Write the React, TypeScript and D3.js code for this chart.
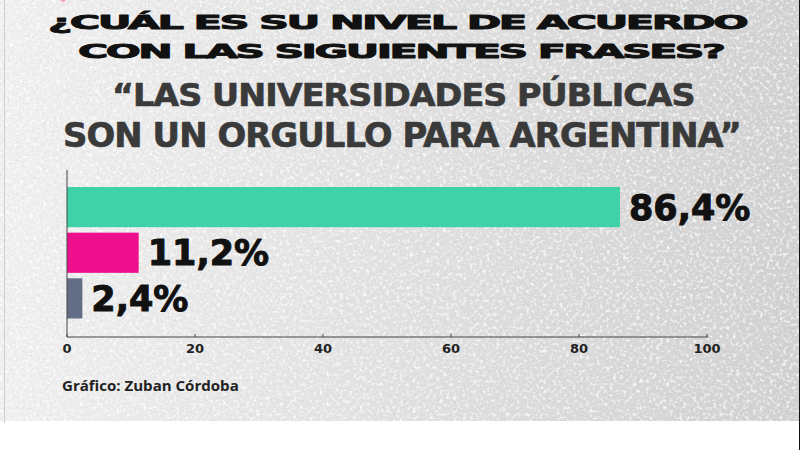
import React, { useLayoutEffect, useRef, useState } from "react";
import * as d3 from "d3";

const categories = ["De acuerdo", "En desacuerdo", "Ns/Nc"];
const values = [86.4, 11.2, 2.4];
const colors = ["#40d2a7", "#ee0f8c", "#646d86"];
const ticks = [0, 20, 40, 60, 80, 100];
const titleLines = ["¿CUÁL ES SU NIVEL DE ACUERDO", "CON LAS SIGUIENTES FRASES?"];
const quoteLines = ["“LAS UNIVERSIDADES PÚBLICAS", "SON UN ORGULLO PARA ARGENTINA”"];
const source = "Gráfico: Zuban Córdoba";

const W = 800;
const H = 450;

function StretchText(props: {
  x: number; y: number; width: number; text: string; fontFamily: string; fontSize: number;
  fill: string; stroke?: string; strokeWidth?: number; fontWeight?: string | number; letterSpacing?: number;
}) {
  const ref = useRef<SVGTextElement>(null);
  const [sx, setSx] = useState(1);
  useLayoutEffect(() => {
    if (ref.current) {
      const w = ref.current.getBBox().width;
      if (w > 0) setSx(props.width / w);
    }
  }, [props.text, props.width, props.fontSize, props.fontFamily]);
  return (
    <g transform={`translate(${props.x},${props.y}) scale(${sx},1)`}>
      <text
        ref={ref}
        x={0}
        y={0}
        fontFamily={props.fontFamily}
        fontWeight={props.fontWeight ?? "bold"}
        fontSize={props.fontSize}
        fill={props.fill}
        stroke={props.stroke}
        strokeWidth={props.strokeWidth}
        strokeLinejoin="round"
        style={{ letterSpacing: `${props.letterSpacing ?? 0}px` }}
      >
        {props.text}
      </text>
    </g>
  );
}

export default function App() {
  const x = d3.scaleLinear().domain([0, 100]).range([67, 707]);
  const y = d3.scaleBand<string>().domain(categories).range([187, 318.5]).paddingInner(0.12);
  const fmt = (v: number) => d3.format(".1f")(v).replace(".", ",") + "%";
  const axisY = 337;

  return (
    <svg width={W} height={H} style={{ position: "absolute", left: 0, top: 0 }}>
      <defs>
        <linearGradient id="bg" x1="0" x2="1" y1="0" y2="0">
          <stop offset="0" stopColor="#f0f0f0" />
          <stop offset="0.45" stopColor="#e2e2e2" />
          <stop offset="1" stopColor="#d0d0d0" />
        </linearGradient>
        <filter id="noiseW" x="0" y="0" width="100%" height="100%">
          <feTurbulence type="fractalNoise" baseFrequency="0.3" numOctaves="3" seed="7" />
          <feColorMatrix type="matrix" values="0 0 0 0 1  0 0 0 0 1  0 0 0 0 1  3.2 0 0 0 -1.6" />
        </filter>
        <filter id="noiseD" x="0" y="0" width="100%" height="100%">
          <feTurbulence type="fractalNoise" baseFrequency="0.6" numOctaves="2" seed="3" />
          <feColorMatrix type="matrix" values="0 0 0 0 0.55  0 0 0 0 0.55  0 0 0 0 0.55  0 3 0 0 -1.7" />
        </filter>
      </defs>
      <rect x={0} y={0} width={W} height={H} fill="#ffffff" />
      <rect x={0} y={0} width={W} height={421} fill="url(#bg)" />
      <rect x={0} y={0} width={W} height={421} filter="url(#noiseD)" opacity={0.5} />
      <rect x={0} y={0} width={W} height={421} filter="url(#noiseW)" opacity={0.85} />
      <line x1={4.5} x2={4.5} y1={0} y2={423} stroke="#cfcfcf" strokeWidth={1} />
      <line x1={799.5} x2={799.5} y1={0} y2={H} stroke="#111" strokeWidth={1} />
      <circle cx={63} cy={-1} r={3} fill="#f4a6d0" />

      <StretchText x={48} y={29} width={699} text={titleLines[0]} fontFamily="DejaVu Sans" fontSize={20} fill="#111" stroke="#111" strokeWidth={0.9} letterSpacing={-1.2} />
      <StretchText x={78} y={58} width={647} text={titleLines[1]} fontFamily="DejaVu Sans" fontSize={20} fill="#111" stroke="#111" strokeWidth={0.9} letterSpacing={-1.2} />
      <StretchText x={112} y={106} width={583} text={quoteLines[0]} fontFamily="DejaVu Sans Condensed" fontSize={32} fill="#3a3a3a" stroke="#3a3a3a" strokeWidth={0.6} letterSpacing={-0.8} />
      <StretchText x={63} y={147} width={678} text={quoteLines[1]} fontFamily="DejaVu Sans Condensed" fontSize={33} fill="#3a3a3a" stroke="#3a3a3a" strokeWidth={0.6} letterSpacing={-0.8} />

      {categories.map((c, i) => (
        <rect key={c} x={x(0)} y={y(c)} width={x(values[i]) - x(0)} height={y.bandwidth()} fill={colors[i]} />
      ))}
      {categories.map((c, i) => (
        <text
          key={c + "l"}
          x={x(values[i]) + 9}
          y={(y(c) as number) + y.bandwidth() / 2 + 12.5}
          fontFamily="DejaVu Sans"
          fontWeight="bold"
          fontSize={35}
          fill="#111"
          stroke="#111"
          strokeWidth={1}
          strokeLinejoin="round"
        >
          {fmt(values[i])}
        </text>
      ))}

      <line x1={x(0)} x2={x(0)} y1={170} y2={axisY} stroke="#444" strokeWidth={1} />
      <line x1={x(0)} x2={x(100) + 1} y1={axisY} y2={axisY} stroke="#444" strokeWidth={1} />
      {ticks.map((t) => (
        <g key={t}>
          <line x1={x(t)} x2={x(t)} y1={axisY - 3} y2={axisY} stroke="#444" strokeWidth={1} />
          <text x={x(t)} y={352.5} textAnchor="middle" fontFamily="DejaVu Sans" fontWeight="bold" fontSize={13} fill="#222">
            {t}
          </text>
        </g>
      ))}

      <StretchText x={62} y={391} width={177} text={source} fontFamily="Open Sans" fontWeight={700} fontSize={15} fill="#222" />
    </svg>
  );
}
